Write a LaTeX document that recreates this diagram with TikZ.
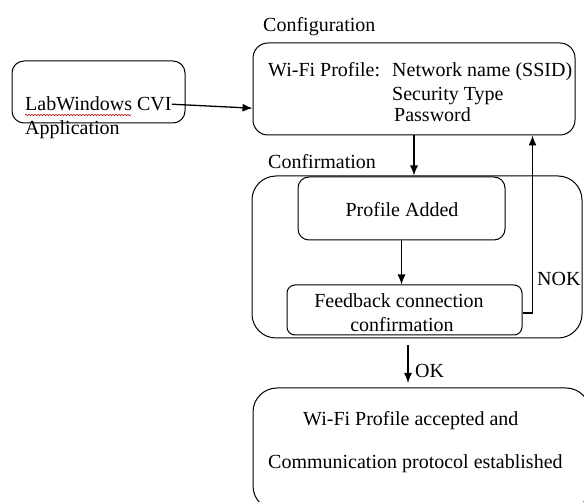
\documentclass[tikz,border=0pt]{standalone}
\usepackage{fontspec}
\setmainfont{Liberation Serif}
\usetikzlibrary{arrows.meta,calc,decorations.pathmorphing}

\begin{document}
\begin{tikzpicture}[x=1pt,y=-1pt,
  box/.style={draw, line width=1pt, rounded corners=#1, inner sep=0pt},
  box/.default=12pt,
  lbl/.style={font=\fontsize{20}{24}\selectfont, inner sep=0pt, anchor=base west},
  ctr/.style={font=\fontsize{20}{24}\selectfont, inner sep=0pt, anchor=base},
  arr/.style={line width=1.3pt, -{Latex[length=10pt,width=8pt]}},
]
\useasboundingbox (0,0) rectangle (584,502);
\clip (0,0) rectangle (584,502);

% frames
\node[box=12pt, minimum width=173pt, minimum height=62pt] (lab) at (98.5,92) {};
\node[box=15pt, minimum width=322pt, minimum height=92pt] (cfg) at (414,89) {};
\node[box=24pt, minimum width=330pt, minimum height=162pt] (conf) at (417,257) {};
\node[box=11pt, minimum width=207pt, minimum height=63pt] (prof) at (401.5,208.5) {};
\node[box=8pt, minimum width=235pt, minimum height=50pt] (fb) at (404.5,310) {};
\node[box=24pt, minimum width=337pt, minimum height=122pt] (fin) at (421.5,449) {};

% texts
\node[lbl] (labA) at (25,111) {LabWindows CVI};
\node[lbl] (labB) at (25,135) {Application};
\draw[red!75!black, line width=0.6pt, decorate,
      decoration={snake, amplitude=0.7pt, segment length=3pt}]
  ($(labA.base west)+(0,4)$) -- ++(106,0);

\node[lbl] (cfgT) at (263,32) {Configuration};
\node[lbl] (wifi) at (268,77) {Wi-Fi Profile:};
\node[lbl] (ssid) at (392,77) {Network name (SSID)};
\node[lbl] (sec) at (392,100.5) {Security Type};
\node[lbl] (pwd) at (394,122) {Password};

\node[lbl] (confT) at (268,169) {Confirmation};
\node[ctr] (profT) at (402,217) {Profile Added};
\node[ctr] (fbA) at (399,308) {Feedback connection};
\node[ctr] (fbB) at (402,332) {confirmation};
\node[lbl] (nokT) at (537,286) {NOK};
\node[lbl] (okT) at (415,378) {OK};

\node[lbl] (finA) at (303,426) {Wi-Fi Profile accepted and};
\node[lbl] (finB) at (268,469) {Communication protocol established};

% connectors
\draw[arr] (labA.east) -- ([yshift=-4pt]cfg.west |- labA.east);
\draw[arr] (cfg.south) -- (cfg.south |- conf.north);
\draw[arr] (prof.south) -- (prof.south |- fb.north);
\coordinate (nok) at ($(fb.east)+(10,3)$);
\draw[arr] ($(fb.east)+(0,3)$) -- (nok) -- (nok |- cfg.south);
\coordinate (okA) at (408,345);
\coordinate (okB) at (408,383);
\draw[arr] (okA) -- (okB);
\end{tikzpicture}
\end{document}
